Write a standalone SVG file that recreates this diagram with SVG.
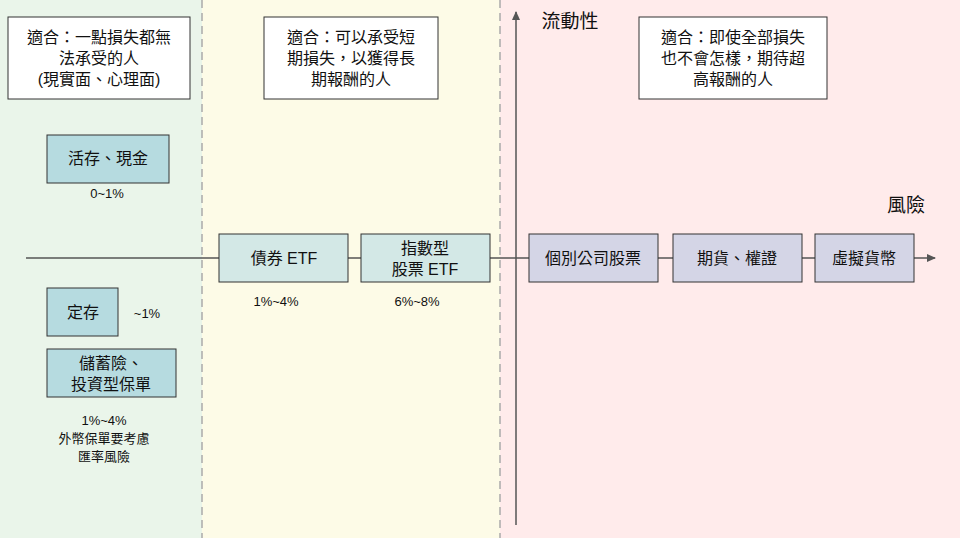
<svg xmlns="http://www.w3.org/2000/svg" width="960" height="538" viewBox="0 0 960 538">
<style>
text{font-family:"Liberation Sans","Noto Sans CJK TC",sans-serif;fill:#111;text-anchor:middle;font-size:16px}
.box{fill:#fff;stroke:#333;stroke-width:1}
.a{fill:#b6dbe0;stroke:#333}
.b{fill:#d3e8e6;stroke:#333}
.c{fill:#d4d5e6;stroke:#333}
.sm{font-size:13px}
.dash{stroke:#aaa;stroke-width:1.5;stroke-dasharray:8 5}
</style>
<defs><marker id="ar" markerWidth="10" markerHeight="10" refX="8" refY="5" orient="auto" markerUnits="userSpaceOnUse"><path d="M0,1 L9,5 L0,9 z" fill="#555"/></marker></defs>
<rect x="0" y="0" width="202" height="538" fill="#eaf5ea"/>
<rect x="202" y="0" width="298" height="538" fill="#fdfbe7"/>
<rect x="500" y="0" width="460" height="538" fill="#ffebeb"/>
<line class="dash" x1="202" y1="0" x2="202" y2="538"/>
<line class="dash" x1="500" y1="0" x2="500" y2="538"/>
<g id="connectors" stroke="#555" stroke-width="1.5" fill="none">
<line x1="26" y1="258" x2="935" y2="258" marker-end="url(#ar)"/>
<line x1="516" y1="525" x2="516" y2="12" marker-end="url(#ar)"/>
</g>
<g id="fit1"><rect class="box" x="8" y="17" width="182" height="82"/><text x="99" y="43">適合：一點損失都無</text><text x="99" y="64">法承受的人</text><text x="99" y="85">(現實面、心理面)</text></g>
<g id="fit2"><rect class="box" x="264" y="17" width="174" height="82"/><text x="351" y="43">適合：可以承受短</text><text x="351" y="64">期損失，以獲得長</text><text x="351" y="85">期報酬的人</text></g>
<g id="fit3"><rect class="box" x="639" y="17" width="188" height="82"/><text x="733" y="43">適合：即使全部損失</text><text x="733" y="64">也不會怎樣，期待超</text><text x="733" y="85">高報酬的人</text></g>
<g id="cash"><rect class="a" x="47" y="135" width="122" height="48"/><text x="108" y="164">活存、現金</text><text class="sm" x="107" y="198">0~1%</text></g>
<g id="bond"><rect class="b" x="219" y="234" width="129" height="48"/><text x="284" y="264">債券 ETF</text><text class="sm" x="276" y="306">1%~4%</text></g>
<g id="index"><rect class="b" x="361" y="234" width="129" height="48"/><text x="425" y="254">指數型</text><text x="425" y="275">股票 ETF</text><text class="sm" x="417" y="306">6%~8%</text></g>
<g id="stock"><rect class="c" x="529" y="234" width="129" height="48"/><text x="593" y="264">個別公司股票</text></g>
<g id="futures"><rect class="c" x="673" y="234" width="129" height="48"/><text x="737" y="264">期貨、權證</text></g>
<g id="crypto"><rect class="c" x="815" y="234" width="99" height="48"/><text x="864" y="264">虛擬貨幣</text></g>
<g id="deposit"><rect class="a" x="47" y="288" width="71" height="48"/><text x="83" y="318">定存</text><text class="sm" x="147" y="318">~1%</text></g>
<g id="insurance"><rect class="a" x="47" y="349" width="129" height="48"/><text x="111" y="369">儲蓄險、</text><text x="111" y="390">投資型保單</text><text class="sm" x="104" y="425">1%~4%</text><text class="sm" x="104" y="443">外幣保單要考慮</text><text class="sm" x="104" y="461">匯率風險</text></g>
<text x="570" y="28" style="font-size:19px">流動性</text>
<text x="906" y="212" style="font-size:19px">風險</text>
</svg>
